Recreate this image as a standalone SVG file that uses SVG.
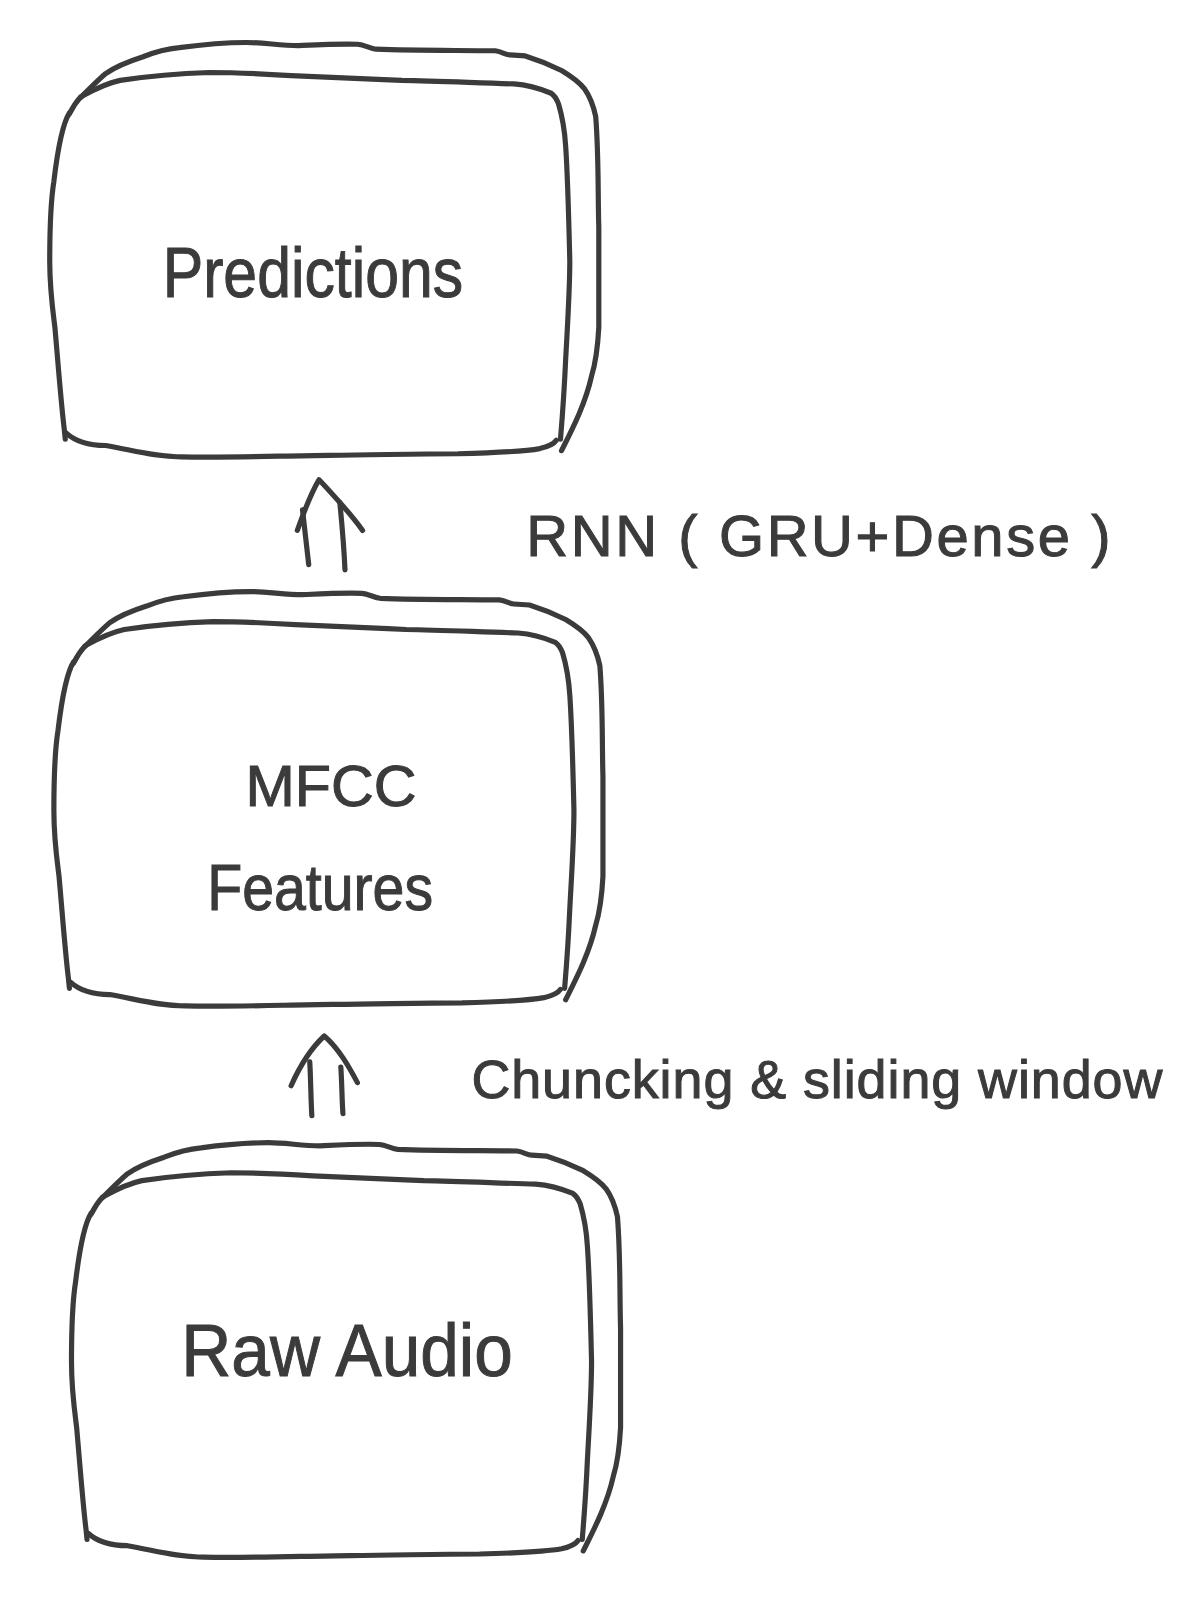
<svg xmlns="http://www.w3.org/2000/svg" xmlns:xlink="http://www.w3.org/1999/xlink" width="1191" height="1623" viewBox="0 0 1191 1623">
<style>
.ink{fill:none;stroke:#3b3b3b;stroke-width:5;stroke-linecap:round;stroke-linejoin:round}
.lbl{font-family:"Liberation Sans","DejaVu Sans",sans-serif;fill:#3b3b3b;stroke:#3b3b3b;stroke-width:1}
</style>
<defs>
<g id="box">
<path class="ink" d="M67,109 C60,120 55,150 52,175 C48,200 48,230 48,252 C48,280 51,300 53,316 C56,350 59,390 62,414 L63,424"/>
<path class="ink" d="M64,418 C75,428 90,430 102,430 C130,435 150,441 175,441 C220,442 270,440 317,439.5 C370,439 400,438 442,438 C480,437 505,436 521,433 C530,431 535,428 537,425"/>
<path class="ink" d="M541,424 C543,400 545,370 546,347 C548,310 550,280 550,252 C549,210 548,170 546,141 C545,125 542,110 539,100 C537,95 535,92 532,90 C520,85 510,82 496,81 C460,80 420,78 388,77.6 C350,76 310,74 281,73 C250,71 225,70 202,70 C170,71 140,74 116,77.6 C100,81 88,88 78,93.5 C73,99 70,104 67,110"/>
<path class="ink" d="M78,94 C88,84 95,77 102,71 C112,64 125,59 137.5,55 C150,50 162,47 173,46 C195,43 215,41 238,41 C255,41 270,44 288,44 C310,43 330,42 345,42.7 C352,43 357,47 363,47.5 C400,49 440,48.5 478,49 C485,50 488,53 492,53 L507,54 C520,58 532,63 542,68 C552,74 559,79 564,85.5 C570,94 573,103 575,112.5 C578,150 577,185 578,220 C578,250 578,290 578,316 C577,335 575,350 571,363 C565,390 552,415 542,435"/>
</g>
</defs>
<g transform="scale(1.036)">
<g id="node-predictions">
<use xlink:href="#box" href="#box"/>
<text class="lbl" x="157" y="287" font-size="68" textLength="290" lengthAdjust="spacingAndGlyphs">Predictions</text>
</g>
<g id="node-mfcc">
<use xlink:href="#box" href="#box" transform="translate(4,530)"/>
<text class="lbl" x="237" y="778" font-size="56" textLength="165" lengthAdjust="spacingAndGlyphs">MFCC</text>
<text class="lbl" x="200" y="878" font-size="62" textLength="218" lengthAdjust="spacingAndGlyphs">Features</text>
</g>
<g id="node-raw-audio">
<use xlink:href="#box" href="#box" transform="translate(21,1062)"/>
<text class="lbl" x="175" y="1328" font-size="72" textLength="320" lengthAdjust="spacingAndGlyphs">Raw Audio</text>
</g>
<g id="connectors">
<g id="edge-mfcc-predictions">
<path class="ink" d="M292,492 C294,510 296,528 298,545"/>
<path class="ink" d="M328,485 C330,505 332,528 333,550"/>
<path class="ink" d="M287,512 C293,495 299,478 308,463 C322,478 338,495 350,512"/>
<text class="lbl" x="508" y="537" font-size="56" textLength="564" lengthAdjust="spacing">RNN ( GRU+Dense )</text>
</g>
<g id="edge-raw-mfcc">
<path class="ink" d="M299,1025 C300,1042 300,1060 301,1077"/>
<path class="ink" d="M329,1030 C330,1045 330,1060 331,1075"/>
<path class="ink" d="M281,1048 C289,1030 300,1012 313,1000 C327,1012 337,1030 345,1045"/>
<text class="lbl" x="455" y="1060" font-size="52" textLength="667" lengthAdjust="spacing">Chuncking &amp; sliding window</text>
</g>
</g>
</g>
</svg>
